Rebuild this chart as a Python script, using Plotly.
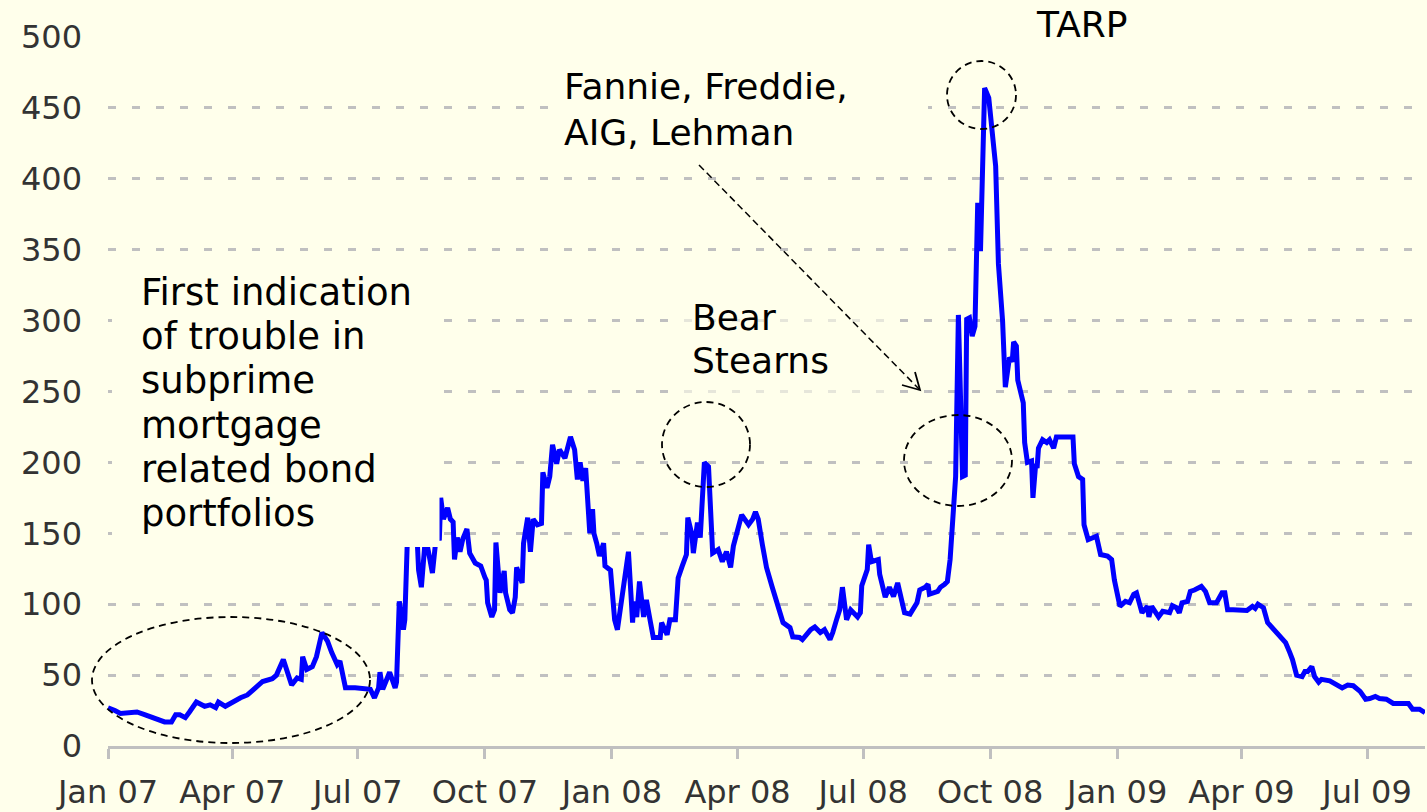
import pandas as pd
import plotly.graph_objects as go

# ---------------- data ----------------
start_date = "2007-01-01"
end_date = "2009-08-12"

# days since 2007-01-01
day_offsets = [
    0, 3, 5, 9, 16, 21, 27, 34, 41, 46, 49, 52, 56, 59, 64, 70, 74, 78, 80, 85,
    90, 96, 101, 106, 112, 119, 122, 127, 130, 133, 137, 140, 141, 144, 148, 151, 155, 159, 162, 166,
    168, 172, 179, 186, 190, 193, 196, 197, 199, 204, 208, 209, 211, 214, 215, 217, 220, 224, 225, 227,
    230, 235, 238, 240, 241, 243, 246, 248, 250, 251, 253, 255, 257, 260, 262, 266, 270, 273, 274, 275,
    278, 280, 281, 284, 287, 288, 291, 293, 295, 296, 300, 301, 304, 306, 308, 311, 314, 315, 318, 320,
    322, 325, 327, 331, 335, 338, 340, 342, 344, 346, 348, 349, 351, 352, 354, 356, 359, 360, 364, 365,
    367, 369, 373, 377, 380, 381, 383, 385, 388, 390, 393, 395, 400, 401, 405, 407, 411, 413, 416, 419,
    420, 423, 424, 427, 429, 432, 435, 438, 442, 445, 448, 451, 453, 456, 459, 464, 467, 469, 471, 474,
    477, 481, 485, 489, 494, 496, 501, 503, 509, 512, 516, 519, 523, 525, 528, 530, 532, 535, 538, 543,
    545, 546, 550, 551, 553, 558, 559, 563, 566, 569, 572, 574, 577, 581, 586, 588, 592, 594, 595, 601,
    603, 606, 608, 610, 612, 614, 616, 619, 621, 622, 624, 626, 628, 630, 632, 635, 638, 640, 643, 645,
    648, 650, 653, 655, 656, 658, 659, 663, 664, 666, 669, 670, 672, 673, 674, 677, 680, 682, 685, 687,
    693, 699, 700, 703, 706, 707, 710, 716, 719, 722, 724, 727, 729, 733, 737, 740, 743, 745, 749, 753,
    754, 756, 758, 761, 764, 769, 771, 774, 776, 778, 782, 784, 787, 792, 795, 798, 803, 807, 809, 811,
    815, 825, 829, 831, 833, 837, 840, 843, 847, 850, 853, 856, 858, 861, 865, 867, 869, 872, 874, 877,
    879, 885, 890, 894, 898, 902, 907, 911, 914, 918, 921, 926, 931, 942, 945, 950, 954,
]

spread_bp = [
    27, 26, 25, 23, 24, 24, 22, 19.5, 17, 17, 22, 22, 20, 24, 31, 28, 29, 27, 31, 28,
    31, 34, 36, 40, 45.5, 47.5, 50, 61, 52, 43, 48, 47, 63, 54, 56, 63, 80, 74, 66, 57.5,
    60, 41, 41, 40, 40, 34, 41, 52, 40, 52, 41, 45, 102, 82, 89, 150, 155, 145, 124, 112,
    148, 122, 150, 145, 175, 160, 168, 160, 158, 131.5, 147, 137, 146, 153, 136, 129, 127, 119, 117, 101,
    91, 96, 143.5, 108, 123.5, 108, 96, 94, 105, 126, 115, 143, 161, 137, 160, 156, 157, 193, 182, 190,
    212.5, 199, 209, 203, 218, 209, 188, 200, 187, 196, 167, 150, 167, 150, 143, 134, 143, 127, 124, 115,
    89, 82, 110, 137, 87, 102, 91, 116, 91, 103, 87, 76.5, 76.5, 87, 78.5, 89, 89, 118.5, 127, 135,
    161, 149, 136, 157.5, 147, 200, 197, 136, 138.5, 130, 137, 126, 141, 152.5, 163, 156, 160, 165, 160, 142,
    126, 112.5, 101, 87, 83.5, 77, 76.5, 75, 82, 84, 80, 82, 75, 80, 90, 96, 112, 89, 96, 91,
    94, 113, 124.5, 142, 130, 131.5, 121, 105, 112, 105.5, 115, 105, 94, 93, 101, 110, 112, 114, 107, 109,
    112, 114, 116, 131.5, 160, 190, 304, 190, 191, 301, 302, 289, 296, 383, 349, 464, 457, 436, 409, 340,
    300, 253, 274, 271, 285, 282, 258, 242, 214, 200, 201, 175, 199, 196, 210, 216, 214, 216, 210, 218,
    218, 218, 199, 190, 188, 156, 145.5, 148, 135, 134, 134, 131.5, 117, 98.5, 102, 101, 107, 108, 94, 98.5,
    91, 98.5, 96, 91, 95, 94, 99, 97.5, 94, 101, 102, 109, 110, 112.5, 109, 101, 101, 108, 108, 96,
    96, 95.5, 98.5, 97, 100, 97.5, 87, 83.5, 80, 76.5, 73, 66, 61, 50, 49, 52.5, 52.5, 56, 49, 45,
    47, 46, 43, 41, 43, 42.5, 38.5, 33, 33.5, 35, 33.5, 33, 30, 30, 26, 26, 23.5,
]

tick_dates = ["2007-01-01", "2007-04-01", "2007-07-01", "2007-10-01", "2008-01-01", "2008-04-01",
              "2008-07-01", "2008-10-01", "2009-01-01", "2009-04-01", "2009-07-01"]
tick_labels = ["Jan 07", "Apr 07", "Jul 07", "Oct 07", "Jan 08", "Apr 08",
               "Jul 08", "Oct 08", "Jan 09", "Apr 09", "Jul 09"]
y_ticks = [0, 50, 100, 150, 200, 250, 300, 350, 400, 450, 500]

note_first = ["First indication", "of trouble in", "subprime", "mortgage", "related bond", "portfolios"]
note_bear = ["Bear", "Stearns"]
note_fannie = ["Fannie, Freddie,", "AIG, Lehman"]
note_tarp = ["TARP"]

# ---------------- figure ----------------
BG = "#FFFFEB"
W, H = 1427, 812
ML, MR, MT, MB = 108, 2, 37, 66
PL, PR, PT, PB = ML, W - MR, MT, H - MB


def pp(x, y):
    """page pixel -> paper coordinates (layout decorations only)"""
    return (x - PL) / (PR - PL), (PB - y) / (PB - PT)


dates = pd.Timestamp(start_date) + pd.to_timedelta(day_offsets, unit="D")

fig = go.Figure()
fig.add_trace(go.Scatter(x=dates, y=spread_bp, mode="lines",
                         line=dict(color="#0000FF", width=5), hoverinfo="skip"))

shapes = []


def rect(x0, y0, x1, y1, opacity=1.0):
    a0, b0 = pp(x0, y1)
    a1, b1 = pp(x1, y0)
    shapes.append(dict(type="rect", xref="paper", yref="paper", x0=a0, y0=b0, x1=a1, y1=b1,
                       fillcolor=BG, opacity=opacity, line=dict(width=0), layer="above"))


def ellipse(x0, y0, x1, y1):
    a0, b0 = pp(x0, y1)
    a1, b1 = pp(x1, y0)
    shapes.append(dict(type="circle", xref="paper", yref="paper", x0=a0, y0=b0, x1=a1, y1=b1,
                       line=dict(color="black", width=1.8, dash="7px,5px"), layer="above"))


# text boxes that hide what lies behind them
rect(112, 265, 439.5, 547)
rect(555, 52, 928, 158)
rect(1003, 4, 1193, 80)
rect(672, 292, 890, 402, opacity=0.6)

ellipse(92, 617, 370, 743)
ellipse(662, 402, 750, 487)
ellipse(904, 415, 1012, 506)
ellipse(947, 61, 1016, 129)

# dashed arrow
ax0, ay0 = pp(699, 165)
ax1, ay1 = pp(919, 389)
shapes.append(dict(type="line", xref="paper", yref="paper", x0=ax0, y0=ay0, x1=ax1, y1=ay1,
                   line=dict(color="black", width=1.5, dash="7px,4px"), layer="above"))
h1 = pp(902, 385)
h2 = pp(920, 390)
h3 = pp(915, 372)
shapes.append(dict(type="path", xref="paper", yref="paper",
                   path=f"M {h1[0]},{h1[1]} L {h2[0]},{h2[1]} L {h3[0]},{h3[1]}",
                   line=dict(color="black", width=1.8), layer="above"))

annotations = []


def note(lines, x, y0, step, size=36):
    for i, t in enumerate(lines):
        px_, py_ = pp(x, y0 + i * step)
        annotations.append(dict(text=t, xref="paper", yref="paper", x=px_, y=py_,
                                xanchor="left", yanchor="middle", showarrow=False,
                                font=dict(family="DejaVu Sans", size=size, color="black")))


note(note_first, 139, 292.5, 44.2, size=37)
note(note_bear, 690, 317.5, 43)
note(note_fannie, 562, 86.7, 45.8)
note(note_tarp, 1034, 24, 0)

fig.update_layout(
    width=W, height=H,
    margin=dict(l=ML, r=MR, t=MT, b=MB, pad=0, autoexpand=False),
    paper_bgcolor=BG, plot_bgcolor=BG,
    showlegend=False,
    shapes=shapes, annotations=annotations,
    font=dict(family="DejaVu Sans", color="#333333"),
    xaxis=dict(
        type="date", range=[start_date, end_date], automargin=False,
        tickmode="array", tickvals=tick_dates, ticktext=tick_labels,
        tickfont=dict(size=32, color="#333333"),
        showgrid=False, zeroline=False,
        showline=True, linecolor="#C0C0C0", linewidth=3,
        ticks="outside", ticklen=10, tickwidth=3, tickcolor="#C0C0C0",
        ticklabelstandoff=6,
    ),
    yaxis=dict(
        range=[0, 500], tickmode="array", tickvals=y_ticks, automargin=False,
        tickfont=dict(size=32, color="#333333"),
        showgrid=True, gridcolor="#C0C0C0", gridwidth=3, griddash="8px,16px",
        zeroline=False, showline=False, ticks="", ticklabelstandoff=25,
    ),
)

fig.write_html(
    "out.html",
    config={"displayModeBar": False},
    post_script="document.body.style.margin='0';document.body.style.background='" + BG + "';"
                "document.body.style.overflow='hidden';",
)
